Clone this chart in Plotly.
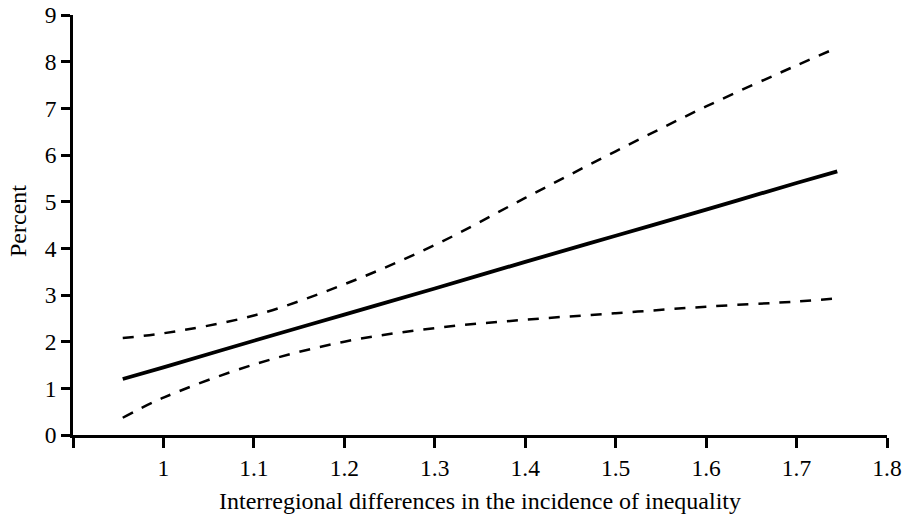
import plotly.graph_objects as go

x_vals = [0.955, 1.0, 1.1, 1.2, 1.3, 1.4, 1.5, 1.6, 1.7, 1.745]
estimate = [1.20, 1.45, 2.02, 2.58, 3.14, 3.71, 4.27, 4.83, 5.40, 5.65]
upper = [2.08, 2.18, 2.56, 3.23, 4.07, 5.08, 6.08, 7.04, 7.92, 8.30]
lower = [0.37, 0.80, 1.51, 2.00, 2.29, 2.47, 2.61, 2.75, 2.86, 2.93]

x_ticks = [0.9, 1.0, 1.1, 1.2, 1.3, 1.4, 1.5, 1.6, 1.7, 1.8]
x_ticktext = ["", "1", "1.1", "1.2", "1.3", "1.4", "1.5", "1.6", "1.7", "1.8"]
y_ticks = [0, 1, 2, 3, 4, 5, 6, 7, 8, 9]

x_title = "Interregional differences in the incidence of inequality"
y_title = "Percent"

FONT = "Liberation Serif"
FS = 23.5
TS = 24

fig = go.Figure()
fig.add_trace(go.Scatter(x=x_vals, y=upper, mode="lines",
                         line=dict(color="black", width=2.5, dash="11px,10px", shape="spline"),
                         showlegend=False, cliponaxis=False))
fig.add_trace(go.Scatter(x=x_vals, y=lower, mode="lines",
                         line=dict(color="black", width=2.5, dash="11px,10px", shape="spline"),
                         showlegend=False, cliponaxis=False))
fig.add_trace(go.Scatter(x=x_vals, y=estimate, mode="lines",
                         line=dict(color="black", width=3.8, shape="spline"),
                         showlegend=False, cliponaxis=False))

fig.update_layout(
    template="none",
    width=908, height=519,
    margin=dict(l=73, r=21, t=15, b=84, autoexpand=False),
    paper_bgcolor="white", plot_bgcolor="white",
    font=dict(family=FONT, size=FS, color="black"),
    xaxis=dict(range=[0.9, 1.8], tickvals=x_ticks, ticktext=x_ticktext, automargin=False,
               showgrid=False, zeroline=False, showline=True, linecolor="black",
               linewidth=2.5, ticks="outside", ticklen=10, tickwidth=2.5, tickcolor="black",
               tickfont=dict(family=FONT, size=FS)),
    yaxis=dict(range=[0, 9], tickvals=y_ticks, automargin=False,
               showgrid=False, zeroline=False, showline=True, linecolor="black",
               linewidth=2.5, ticks="outside", ticklen=9, tickwidth=2.5, tickcolor="black",
               tickfont=dict(family=FONT, size=FS)),
    annotations=[
        dict(text=x_title, xref="paper", yref="paper", x=0.5, y=0, yshift=-66,
             xanchor="center", yanchor="middle", showarrow=False,
             font=dict(family=FONT, size=TS)),
        dict(text=y_title, xref="paper", yref="paper", x=0, xshift=-55, y=0.5, yshift=4,
             xanchor="center", yanchor="middle", textangle=-90, showarrow=False,
             font=dict(family=FONT, size=TS)),
    ],
)

fig.write_html("out.html", config={"displayModeBar": False},
               post_script="document.body.style.margin='0';document.body.style.padding='0';")
